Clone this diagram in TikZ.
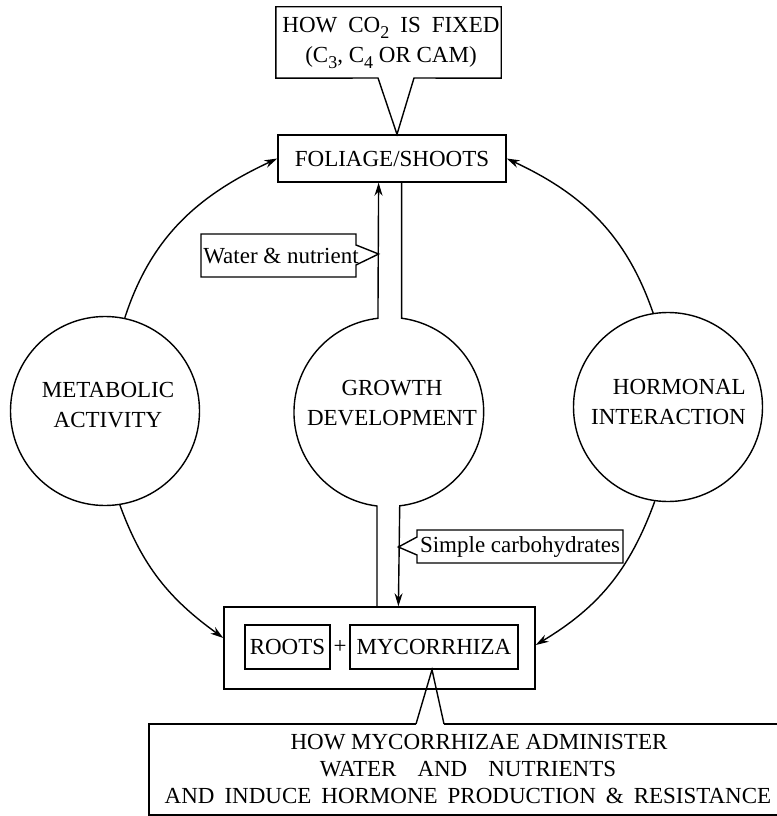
\documentclass[tikz,border=0pt]{standalone}
\usepackage{fontspec}
\setmainfont{Liberation Serif}
\usetikzlibrary{arrows.meta,calc}
\newcommand{\lowsub}[1]{\raisebox{-6pt}{\fontsize{18}{18}\selectfont #1}}
\begin{document}
\begin{tikzpicture}[x=1pt,y=1pt,
  every node/.style={font=\fontsize{23}{30}\selectfont, inner sep=0pt},
  ln/.style={line width=1.4pt, line join=miter},
  arr/.style={ln,-{Stealth[length=13pt,width=8pt]}},
  boxed/.style={draw, line width=1.4pt, inner sep=0pt},
  circ/.style={circle, minimum size=189pt, inner sep=0pt},
  lbl/.style={align=center}]
\useasboundingbox (0,0) rectangle (776,-816);

% top callout
\node[minimum width=225pt, minimum height=71pt] (co2box) at (388.5,-42.5) {};
\node[lbl] (co2) at (391,-43) {HOW\hspace{11pt}CO\lowsub{2}\hspace{11pt}IS\hspace{11pt}FIXED\\(C\lowsub{3}, C\lowsub{4} OR CAM)};
\node[boxed, minimum width=228pt, minimum height=47pt] (fol) at (392,-158.5) {FOLIAGE/SHOOTS};
\coordinate (cbl) at (378,-78);
\coordinate (cbr) at (414,-78);
\draw[ln] (cbl) -- (co2box.south west) -- (co2box.north west) -- (co2box.north east) -- (co2box.south east) -- (cbr) -- ([xshift=5pt]fol.north) -- cycle;

% circles
\node[circ, draw, line width=1.4pt] (met) at (105,-411) {};
\node[lbl] (metT) at (108,-405) {METABOLIC\\ACTIVITY};
\node[circ] (grow) at (388.5,-412) {};
\node[lbl] (growT) at (392,-403) {GROWTH\\DEVELOPMENT};
\node[circ, draw, line width=1.4pt] (hor) at (668,-407) {};
\node[align=right, anchor=east] (horT) at (746,-401.5) {HORMONAL\\INTERACTION};

% roots
\node[boxed, minimum width=311pt, minimum height=82pt] (roots) at (379.5,-648) {};
\node[boxed, minimum width=85pt, minimum height=44pt] (rt) at (287.5,-647) {ROOTS};
\node (plus) at (340,-647) {+};
\node[boxed, minimum width=168pt, minimum height=44pt] (myc) at (434,-647) {MYCORRHIZA};

% pipes through growth circle
\draw[arr] (grow.263 |- roots.north) -- (grow.263) arc[start angle=263, end angle=96.4, radius=94.5pt] -- (grow.96.4 |- fol.south);
\draw[arr] (grow.82.4 |- fol.south) -- (grow.82.4) arc[start angle=82.4, end angle=-83.6, radius=94.5pt] -- (grow.276.4 |- roots.north);

% water callout
\coordinate (wtip) at ($(grow.96.4)+(0,158)$);
\node (wat) at (281,-256) {Water \& nutrient};
\draw[ln] (356,-245) -- (356,-234) -- (201,-234) -- (201,-277) -- (356,-277) -- (356,-265) -- (wtip |- 0,-254) -- cycle;

% carbohydrates callout
\node (sc) at (520,-546.5) {Simple carbohydrates};
\draw[ln] (417,-537) -- (417,-530) -- (623,-530) -- (623,-563) -- (417,-563) -- (417,-555) -- (grow.276.4 |- 0,-547) -- cycle;

% arcs
\draw[arr] (met.78) to[out=72,in=205] (fol.west);
\draw[arr] (met.279) to[out=290,in=144] ([yshift=10pt]roots.west);
\draw[arr] (hor.99) to[out=109,in=-25] (fol.east);
\draw[arr] (hor.262) to[out=250,in=31] ([yshift=3pt]roots.east);

% bottom callout
\coordinate (bl) at (416,-724);
\coordinate (br) at (444,-724);
\draw[ln] (bl) -- (149,-724) -- (149,-815) -- (777,-815);
\draw[ln] (br) -- (777,-724);
\draw[ln] (bl) -- ([xshift=-2pt]myc.south) -- (br);
\node[lbl, font=\fontsize{23}{27}\selectfont] (how) at (468,-769) {\hspace*{22pt}HOW MYCORRHIZAE ADMINISTER\\WATER\hspace{21pt}AND\hspace{21pt}NUTRIENTS\\AND\hspace{10pt}INDUCE\hspace{10pt}HORMONE\hspace{10pt}PRODUCTION\hspace{10pt}\&\hspace{10pt}RESISTANCE};
\end{tikzpicture}
\end{document}
